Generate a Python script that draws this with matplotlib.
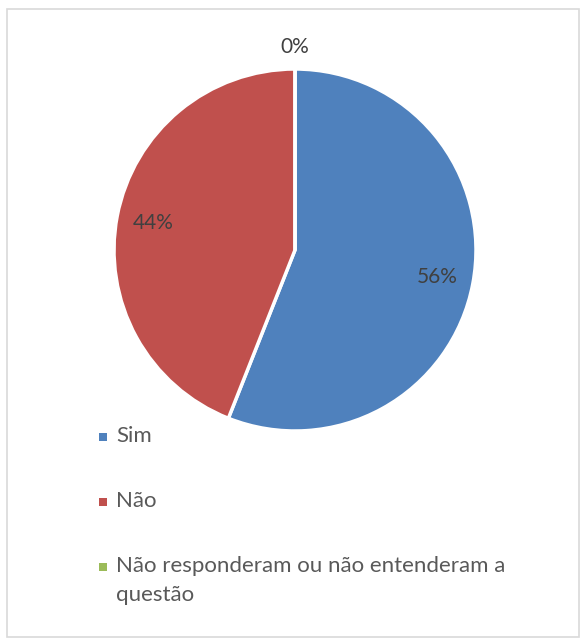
import matplotlib.pyplot as plt
from matplotlib.patches import Rectangle

# respostas da pergunta
categorias = ['Sim', 'Não', 'Não responderam ou não entenderam a\nquestão']
valores = [56, 44, 0]
cores = ['#4F81BD', '#C0504D', '#9BBB59']

W, H = 582, 639
fig = plt.figure(figsize=(W / 100, H / 100), dpi=100)
plt.rcParams['font.family'] = ['Lato', 'DejaVu Sans']

# moldura do gráfico
fig.patches.append(Rectangle((7 / W, 2 / H), 572 / W, 628 / H, transform=fig.transFigure,
                             fill=False, edgecolor='#D9D9D9', linewidth=1.2))

# eixo da pizza: centro (295, 250), raio 181 px
cx, cy, r = 295, 250, 181
ax = fig.add_axes([(cx - r) / W, (H - cy - r) / H, 2 * r / W, 2 * r / H])

wedges, textos, pcts = ax.pie(valores, colors=cores, startangle=90, counterclock=False,
                              radius=1, autopct='%1.0f%%', pctdistance=0.8,
                              wedgeprops=dict(edgecolor='white', linewidth=2.5),
                              textprops=dict(color='#404040', fontsize=15))
ax.set_xlim(-1, 1)
ax.set_ylim(-1, 1)
ax.axis('off')

# rótulo de fatia vazia fica fora do círculo
for v, t in zip(valores, pcts):
    if v == 0:
        x, y = t.get_position()
        t.set_position((x / 0.8 * 1.12, y / 0.8 * 1.12))

# legenda vertical à esquerda
y0 = 437
passo = 65
for i, (nome, cor) in enumerate(zip(categorias, cores)):
    y = y0 + i * passo
    fig.patches.append(Rectangle((99 / W, 1 - (y + 4) / H), 8 / W, 8 / H,
                                 transform=fig.transFigure, facecolor=cor, edgecolor='none'))
    fig.text(116 / W, 1 - (y - 11) / H, nome, fontsize=16, color='#595959',
             va='top', ha='left', linespacing=1.55)

fig.savefig('out.png', dpi=100, facecolor='white')
